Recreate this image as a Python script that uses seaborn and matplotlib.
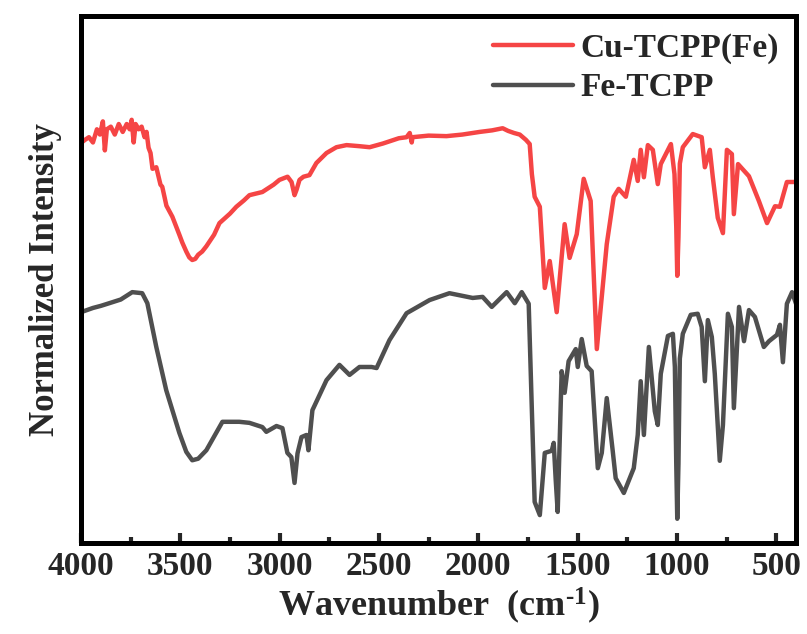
import numpy as np
import pandas as pd
import matplotlib
matplotlib.use("Agg")
import matplotlib.pyplot as plt
import seaborn as sns

# ---- data ----
cu_wn = [4000, 3980, 3960, 3940, 3920, 3905, 3890, 3880, 3870, 3850, 3830, 3810, 3790,
         3770, 3755, 3745, 3735, 3725, 3710, 3695, 3680, 3670, 3660, 3650, 3640, 3621,
         3600, 3591, 3570, 3540, 3505, 3490, 3470, 3455, 3440, 3425, 3410, 3390, 3369,
         3330, 3303, 3250, 3218, 3180, 3152, 3087, 3030, 3001, 2960, 2940, 2925, 2915,
         2900, 2880, 2850, 2815, 2764, 2714, 2663, 2600, 2547, 2480, 2400, 2361, 2345,
         2335, 2331, 2250, 2160, 2080, 1993, 1930, 1877, 1850, 1820, 1791, 1760, 1741,
         1730, 1716, 1690, 1665, 1640, 1605, 1565, 1540, 1504, 1469, 1434, 1403, 1353,
         1318, 1293, 1257, 1217, 1197, 1182, 1166, 1146, 1121, 1096, 1081, 1030, 1012,
         1003, 998, 992, 985, 970, 920, 875, 859, 834, 819, 794, 768, 748, 723, 713, 692,
         637, 587, 546, 506, 481, 446, 400]
cu_int = [75.9, 76.5, 77.0, 76.0, 78.5, 77.5, 80.0, 74.5, 78.5, 79.0, 77.5, 79.5, 78.0,
          79.5, 78.5, 80.3, 76.0, 79.5, 78.5, 79.0, 77.0, 78.0, 75.0, 74.0, 71.0, 71.3,
          68.0, 67.6, 64.0, 61.9, 58.5, 57.0, 55.3, 54.2, 53.7, 53.9, 54.7, 55.3, 56.3,
          58.5, 60.7, 62.5, 63.8, 65.0, 66.0, 66.6, 68.0, 68.9, 69.5, 68.5, 66.0, 67.0,
          68.9, 69.5, 69.8, 72.1, 74.0, 75.1, 75.5, 75.3, 75.1, 75.8, 76.8, 77.0, 77.8,
          76.0, 77.0, 77.3, 77.2, 77.5, 78.0, 78.3, 78.7, 78.2, 77.8, 77.5, 76.5, 75.7,
          70.0, 65.7, 63.8, 48.4, 53.5, 43.8, 60.5, 54.1, 58.6, 69.1, 64.9, 36.8, 56.7,
          65.7, 67.2, 65.7, 72.7, 68.7, 74.6, 69.4, 75.5, 74.6, 68.1, 71.9, 75.7, 70.0,
          60.0, 50.7, 58.0, 72.0, 75.1, 77.6, 77.0, 71.3, 74.6, 69.4, 61.7, 58.8, 74.6,
          73.8, 62.4, 71.9, 69.6, 64.9, 60.7, 63.9, 63.8, 68.5, 68.5]

fe_wn = [4000, 3940, 3900, 3858, 3800, 3742, 3692, 3666, 3621, 3571, 3505, 3470, 3440,
         3410, 3369, 3288, 3203, 3152, 3087, 3067, 3016, 2986, 2961, 2941, 2925, 2910,
         2890, 2865, 2855, 2835, 2764, 2699, 2648, 2598, 2537, 2512, 2447, 2361, 2245,
         2145, 2028, 1978, 1932, 1857, 1816, 1781, 1746, 1731, 1716, 1690, 1665, 1630,
         1620, 1610, 1600, 1580, 1565, 1545, 1509, 1499, 1479, 1454, 1429, 1398, 1378,
         1353, 1323, 1308, 1267, 1217, 1197, 1182, 1166, 1141, 1111, 1096, 1081, 1045,
         1020, 1010, 1003, 998, 992, 985, 970, 930, 895, 875, 859, 844, 824, 809, 784,
         768, 743, 723, 713, 687, 662, 637, 607, 562, 536, 496, 481, 466, 446, 420, 400]
fe_int = [43.8, 44.6, 45.0, 45.5, 46.2, 47.6, 47.4, 45.5, 37.2, 29.0, 20.9, 17.3, 15.7,
          16.0, 17.6, 23.0, 23.0, 22.8, 22.0, 21.1, 22.2, 21.8, 17.1, 16.3, 11.4, 17.0,
          20.1, 20.5, 17.6, 25.2, 30.9, 33.8, 31.9, 33.4, 33.4, 33.2, 38.5, 43.6, 46.1,
          47.4, 46.5, 46.7, 44.8, 47.6, 45.5, 47.6, 45.4, 26.4, 7.8, 5.3, 17.1, 17.5,
          19.0, 12.0, 5.9, 32.6, 28.5, 34.5, 36.8, 33.4, 38.7, 33.6, 32.6, 14.2, 17.1,
          27.5, 17.5, 12.3, 9.5, 14.2, 20.5, 30.7, 20.5, 37.2, 25.0, 22.4, 32.1, 39.3,
          39.7, 33.4, 15.0, 4.6, 15.0, 35.0, 39.7, 43.3, 43.5, 41.0, 30.7, 42.3, 39.1,
          32.1, 15.6, 22.4, 43.5, 41.0, 25.6, 44.8, 38.3, 44.2, 42.9, 37.2, 38.3, 39.5,
          41.4, 34.3, 45.4, 47.6, 45.4]

labels = ["Cu-TCPP(Fe)", "Fe-TCPP"]
colors = ["#F54545", "#4F4F4F"]
x_ticks = [4000, 3500, 3000, 2500, 2000, 1500, 1000, 500]

df = pd.concat([
    pd.DataFrame({"wn": cu_wn, "I": cu_int, "sample": labels[0]}),
    pd.DataFrame({"wn": fe_wn, "I": fe_int, "sample": labels[1]}),
])

sns.set_style("ticks")
plt.rcParams["font.family"] = ["Liberation Serif", "DejaVu Serif"]
plt.rcParams["font.weight"] = "bold"
plt.rcParams["mathtext.fontset"] = "custom"
plt.rcParams["mathtext.rm"] = "Liberation Serif:bold"
plt.rcParams["mathtext.bf"] = "Liberation Serif:bold"
plt.rcParams["mathtext.default"] = "rm"

fig = plt.figure(figsize=(8.07, 6.34), dpi=100)
ax = fig.add_axes([0.1004, 0.1435, 0.8860, 0.8313])

sns.lineplot(data=df, x="wn", y="I", hue="sample", palette=dict(zip(labels, colors)),
             hue_order=labels, linewidth=3.2, ax=ax, sort=False, estimator=None)

ax.set_xlim(4000, 400)
ax.set_ylim(0, 100)
ax.set_xticks(x_ticks)
ax.set_xticks(np.arange(3750, 400, -500), minor=True)
ax.set_yticks([])
ax.tick_params(axis="x", which="major", direction="in", length=7, width=3,
               labelsize=24, pad=6)
ax.tick_params(axis="x", which="minor", direction="in", length=4, width=3)
for lab in ax.get_xticklabels():
    lab.set_fontweight("bold")
for s in ax.spines.values():
    s.set_linewidth(3.6)
    s.set_color("black")

ax.set_xlabel("Wavenumber  (cm$^{\\text{-1}}$)", fontsize=26, fontweight="bold", labelpad=2)
ax.set_ylabel("Normalized Intensity", fontsize=25, fontweight="bold", labelpad=14)

leg = ax.legend(loc="upper right", frameon=False, fontsize=24, handlelength=2.4,
                handletextpad=0.25, labelspacing=0.25, borderaxespad=0.1,
                bbox_to_anchor=(1.0, 1.0))
for t in leg.get_texts():
    t.set_fontweight("bold")
for l in leg.get_lines():
    l.set_linewidth(3.2)

fig.savefig("out.png", dpi=100)
